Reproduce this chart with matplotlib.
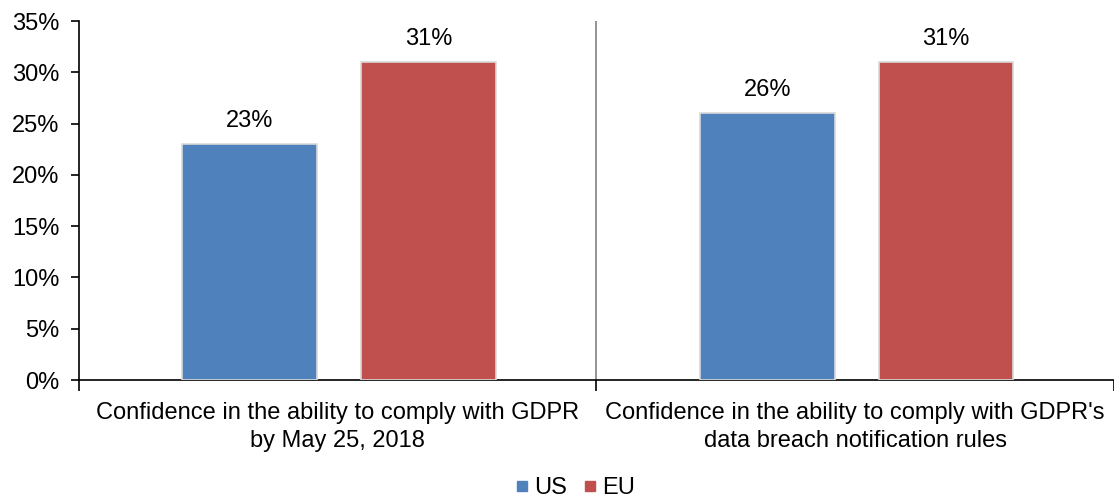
import matplotlib.pyplot as plt
import numpy as np
from matplotlib.ticker import PercentFormatter
from matplotlib.lines import Line2D

plt.rcParams['font.family'] = ['Liberation Sans', 'DejaVu Sans']

categories = ["Confidence in the ability to comply with GDPR\nby May 25, 2018",
              "Confidence in the ability to comply with GDPR's\ndata breach notification rules"]
series = ['US', 'EU']
us_values = [23, 26]
eu_values = [31, 31]
colors = ['#4F81BD', '#C0504D']

fig = plt.figure(figsize=(11.14, 4.98), dpi=100)
ax = fig.add_axes([0.0709, 0.2369, 0.9291, 0.7209])

x = np.arange(len(categories))
w = 0.26
for vals, off, col in [(us_values, -0.17, colors[0]), (eu_values, 0.175, colors[1])]:
    bars = ax.bar(x + off, vals, w, color=col, edgecolor='#d9d9d9', linewidth=1.2, zorder=3)
    for b, v in zip(bars, vals):
        ax.text(b.get_x() + b.get_width() / 2, v + 1.2, f'{v}%', ha='center', va='bottom', fontsize=17)

ax.set_xlim(-0.5, 1.5)
ax.set_ylim(0, 35)
ax.set_yticks(np.arange(0, 36, 5))
ax.yaxis.set_major_formatter(PercentFormatter(decimals=0))
ax.tick_params(axis='y', labelsize=17, direction='out', length=6, width=1.2, pad=8)

ax.set_xticks([-0.5, 0.5, 1.5])
ax.set_xticklabels([])
ax.tick_params(axis='x', direction='out', length=8, width=1.2)
ax.set_xticks(x, minor=True)
ax.set_xticklabels(categories, minor=True, fontsize=17, linespacing=1.35)
ax.tick_params(axis='x', which='minor', length=0, pad=16)

ax.axvline(0.5, color='#808080', linewidth=1.2, zorder=1)

for s in ['top', 'right']:
    ax.spines[s].set_visible(False)
ax.spines['left'].set_linewidth(1.2)
ax.spines['bottom'].set_linewidth(1.2)

handles = [Line2D([], [], marker='s', linestyle='none', markersize=7, color=c) for c in colors]
fig.legend(handles, series, loc='lower center', bbox_to_anchor=(0.515, -0.045), ncol=2,
           frameon=False, fontsize=17, handletextpad=0.1, columnspacing=0.6, handlelength=0.8)

fig.savefig('out.png', dpi=100)
